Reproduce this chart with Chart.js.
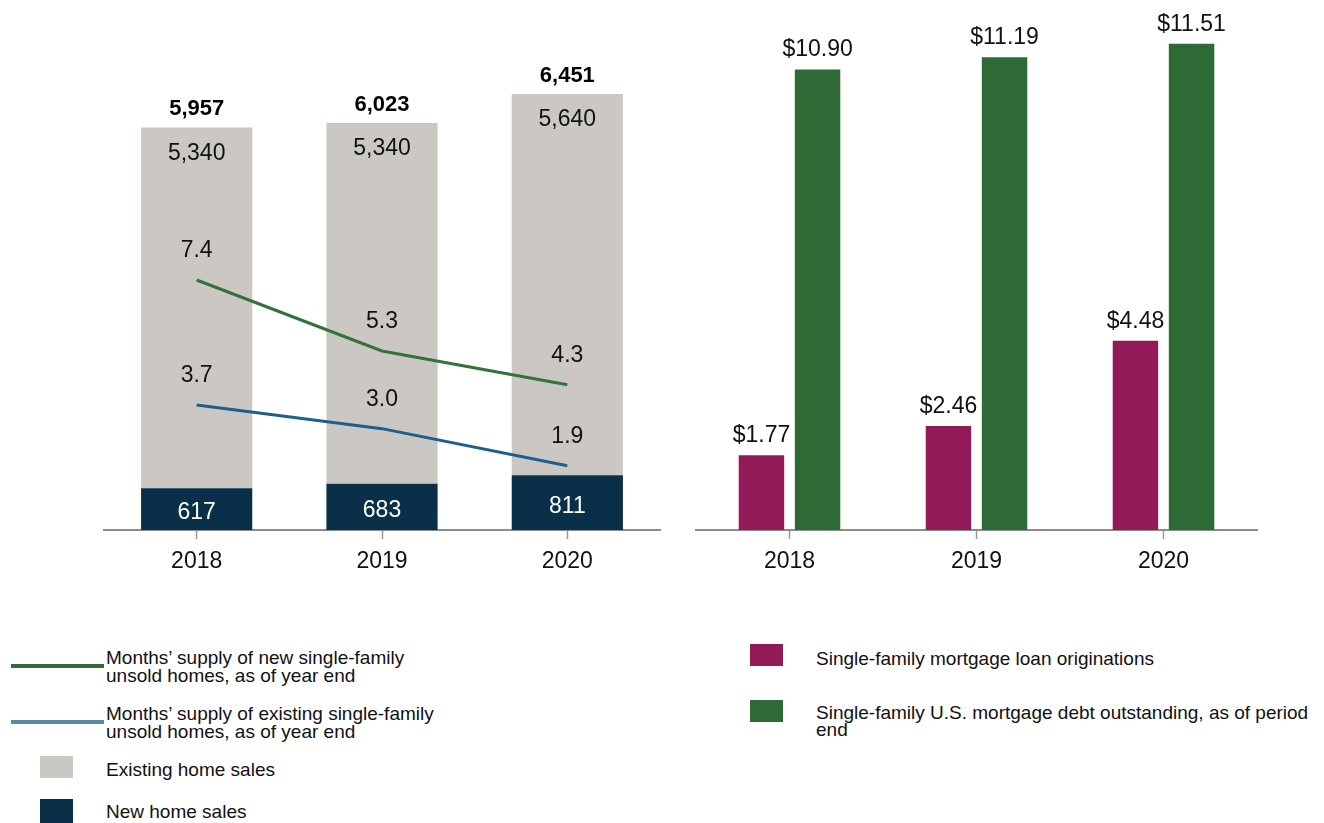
<!DOCTYPE html>
<html>
<head>
<meta charset="utf-8">
<script src="https://cdn.jsdelivr.net/npm/chart.js@4.4.1/dist/chart.umd.min.js"></script>
<style>
  html, body { margin:0; padding:0; background:#fff; width:1324px; height:823px; overflow:hidden; }
  body { position:relative; font-family:"Liberation Sans", Arial, sans-serif; color:#111; }
  canvas { position:absolute; top:0; }
  #left { left:0; }
  #right { left:680px; }
  .lg { position:absolute; font-size:19px; line-height:18px; white-space:nowrap; }
  .sw { position:absolute; }
</style>
</head>
<body>
<canvas id="left" width="680" height="600"></canvas>
<canvas id="right" width="644" height="600"></canvas>

<div class="sw" style="left:11px;top:664px;width:93px;height:4px;background:#2E6B37"></div>
<div class="lg" style="left:106px;top:649px;">Months’ supply of new single-family<br>unsold homes, as of year end</div>
<div class="sw" style="left:11px;top:720px;width:93px;height:4px;background:#5A89A8"></div>
<div class="lg" style="left:106px;top:705px;">Months’ supply of existing single-family<br>unsold homes, as of year end</div>
<div class="sw" style="left:40px;top:756px;width:33px;height:22px;background:#CBC8C3"></div>
<div class="lg" style="left:106px;top:761px;">Existing home sales</div>
<div class="sw" style="left:40px;top:799px;width:33px;height:24px;background:#0A3049"></div>
<div class="lg" style="left:106px;top:803px;">New home sales</div>

<div class="sw" style="left:750px;top:644px;width:33px;height:22px;background:#921A58"></div>
<div class="lg" style="left:816px;top:650px;">Single-family mortgage loan originations</div>
<div class="sw" style="left:750px;top:700px;width:33px;height:22px;background:#2D6A36"></div>
<div class="lg" style="left:816px;top:704px;line-height:17px;white-space:normal;width:505px;">Single-family U.S. mortgage debt outstanding, as of period end</div>

<script>
const years = ['2018', '2019', '2020'];
const newHomeSales = [617, 683, 811];
const existingHomeSales = [5340, 5340, 5640];
const totalHomeSales = [5957, 6023, 6451];
const monthsSupplyNew = [7.4, 5.3, 4.3];
const monthsSupplyExisting = [3.7, 3.0, 1.9];
const mortgageOriginations = [1.77, 2.46, 4.48];
const mortgageDebt = [10.90, 11.19, 11.51];

const FONT = '"Liberation Sans", Arial, sans-serif';
const fmt = n => n.toLocaleString('en-US');

function xAxis() {
  return {
    offset: true,
    stacked: true,
    grid: { display: true, drawOnChartArea: false, drawTicks: true, tickLength: 9, tickWidth: 1.5, tickColor: '#9a9a9a', offset: false },
    border: { display: true, color: '#8c8c8c', width: 2 },
    ticks: { color: '#111', font: { family: FONT, size: 23 }, padding: 9 },
    afterFit: s => { s.height = 50; }
  };
}

const leftLabels = {
  id: 'leftLabels',
  afterDatasetsDraw(chart) {
    const ctx = chart.ctx;
    ctx.save();
    ctx.textAlign = 'center';
    ctx.textBaseline = 'middle';
    const mNew = chart.getDatasetMeta(0), mEx = chart.getDatasetMeta(1);
    const mL1 = chart.getDatasetMeta(2), mL2 = chart.getDatasetMeta(3);
    years.forEach((y, i) => {
      const bn = mNew.data[i], be = mEx.data[i];
      ctx.font = '23px ' + FONT;
      ctx.fillStyle = '#fff';
      ctx.fillText(fmt(newHomeSales[i]), bn.x, (bn.y + bn.base) / 2 + 4);
      ctx.fillStyle = '#111';
      ctx.fillText(fmt(existingHomeSales[i]), be.x, be.y + 26);
      ctx.fillText(monthsSupplyNew[i].toFixed(1), mL1.data[i].x, mL1.data[i].y - 29);
      ctx.fillText(monthsSupplyExisting[i].toFixed(1), mL2.data[i].x, mL2.data[i].y - 29);
      ctx.font = 'bold 22px ' + FONT;
      ctx.fillStyle = '#000';
      ctx.fillText(fmt(totalHomeSales[i]), be.x, be.y - 18.5);
    });
    ctx.restore();
  }
};

new Chart(document.getElementById('left'), {
  type: 'bar',
  data: {
    labels: years,
    datasets: [
      { label: 'New home sales', data: newHomeSales, backgroundColor: '#0A3049', stack: 's', order: 2, categoryPercentage: 0.6, barPercentage: 1 },
      { label: 'Existing home sales', data: existingHomeSales, backgroundColor: '#CBC8C3', stack: 's', order: 2, categoryPercentage: 0.6, barPercentage: 1 },
      { type: 'line', label: "Months' supply of new single-family unsold homes", data: monthsSupplyNew, yAxisID: 'y2', borderColor: '#34713B', borderWidth: 3, pointRadius: 0, tension: 0, order: 0 },
      { type: 'line', label: "Months' supply of existing single-family unsold homes", data: monthsSupplyExisting, yAxisID: 'y2', borderColor: '#1F5F8C', borderWidth: 3, pointRadius: 0, tension: 0, order: 0 }
    ]
  },
  options: {
    responsive: false,
    animation: false,
    layout: { padding: { left: 104, right: 20, top: 57, bottom: 20 } },
    plugins: { legend: { display: false }, tooltip: { enabled: false } },
    scales: {
      x: xAxis(),
      y: { display: false, stacked: true, min: 0, max: 7000 },
      y2: { display: false, stacked: false, min: 0, max: 14 }
    }
  },
  plugins: [leftLabels]
});

const rightLabels = {
  id: 'rightLabels',
  afterDatasetsDraw(chart) {
    const ctx = chart.ctx;
    ctx.save();
    ctx.textAlign = 'center';
    ctx.textBaseline = 'middle';
    ctx.font = '23px ' + FONT;
    ctx.fillStyle = '#111';
    chart.data.datasets.forEach((ds, d) => {
      chart.getDatasetMeta(d).data.forEach((el, i) => {
        ctx.fillText('$' + ds.data[i].toFixed(2), el.x, el.y - 19.5);
      });
    });
    ctx.restore();
  }
};

const rx = xAxis();
rx.stacked = false;
new Chart(document.getElementById('right'), {
  type: 'bar',
  data: {
    labels: years,
    datasets: [
      { label: 'Single-family mortgage loan originations', data: mortgageOriginations, backgroundColor: '#921A58', categoryPercentage: 0.6, barPercentage: 0.81 },
      { label: 'Single-family U.S. mortgage debt outstanding, as of period end', data: mortgageDebt, backgroundColor: '#2D6A36', categoryPercentage: 0.6, barPercentage: 0.81 }
    ]
  },
  options: {
    responsive: false,
    animation: false,
    layout: { padding: { left: 16, right: 67, top: 23, bottom: 20 } },
    plugins: { legend: { display: false }, tooltip: { enabled: false } },
    scales: {
      x: rx,
      y: { display: false, min: 0, max: 12 }
    }
  },
  plugins: [rightLabels]
});
</script>
</body>
</html>
